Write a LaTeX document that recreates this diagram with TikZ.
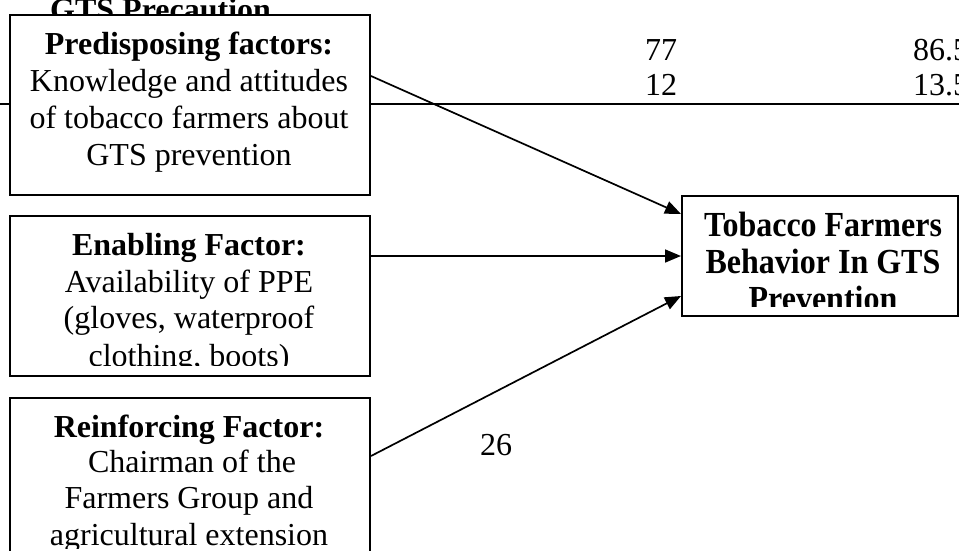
\documentclass[tikz,border=0pt]{standalone}
\usepackage{fontspec}
\setmainfont{Liberation Serif}
\usetikzlibrary{arrows.meta}
\tikzset{
  box/.style={draw, line width=2pt, fill=white, inner sep=0pt, anchor=north west},
  ln/.style={anchor=base, inner sep=0pt, font=\fontsize{32}{37}\selectfont},
  bl/.style={anchor=base, inner sep=0pt, font=\fontsize{32}{37}\selectfont\bfseries},
  arr/.style={line width=1.7pt, -{Triangle[length=16pt,width=13pt]}},
}
\newcommand{\tallbf}[1]{\scalebox{1}[1.1]{#1}}
\begin{document}
\begin{tikzpicture}[x=1pt,y=-1pt]
\useasboundingbox (0,0) rectangle (959,550);
\clip (0,0) rectangle (959,550);
% table remnants
\coordinate (hl0) at (0,104);
\coordinate (hl1) at (959,104);
\draw[line width=2.4pt] (hl0) -- (hl1);
\node[bl, anchor=base west] (gts) at (50,20) {GTS Precaution};
\node[ln, anchor=base west] (n77) at (645,60) {77};
\node[ln, anchor=base west] (n12) at (645,95) {12};
\node[ln, anchor=base west] (n865) at (913,60) {86.5};
\node[ln, anchor=base west] (n135) at (913,95) {13.5};
\node[ln, anchor=base west] (n26) at (480,455) {26};
% boxes
\node[box, minimum width=360pt, minimum height=180pt] (pre) at (9,14) {};
\node[box, minimum width=360pt, minimum height=160pt] (ena) at (9,215) {};
\node[box, minimum width=360pt, minimum height=200pt] (rei) at (9,397) {};
\node[box, minimum width=276pt, minimum height=120pt] (beh) at (681,195) {};
% box texts
\node[bl] (p1) at (189,54) {Predisposing factors:};
\node[ln] (p2) at (189,91) {Knowledge and attitudes};
\node[ln] (p3) at (189,128) {of tobacco farmers about};
\node[ln] (p4) at (189,165) {GTS prevention};
\begin{scope}
\clip (9,215) rectangle (369,365);
\node[bl] (e1) at (189,255) {Enabling Factor:};
\node[ln] (e2) at (189,292) {Availability of PPE};
\node[ln] (e3) at (189,328) {(gloves, waterproof};
\node[ln] (e4) at (189,366) {clothing, boots)};
\end{scope}
\begin{scope}
\clip (9,397) rectangle (369,548);
\node[bl] (r1) at (189,437) {Reinforcing Factor:};
\node[ln] (r2) at (192,472) {Chairman of the};
\node[ln] (r3) at (189,508) {Farmers Group and};
\node[ln] (r4) at (189,545) {agricultural extension};
\end{scope}
\begin{scope}
\clip (681,195) rectangle (956,306);
\node[bl] (b1) at (823,236) {\tallbf{Tobacco Farmers}};
\node[bl] (b2) at (823,273) {\tallbf{Behavior In GTS}};
\node[bl] (b3) at (823,310) {\tallbf{Prevention}};
\end{scope}
% arrows
\draw[arr] ([yshift=29pt]pre.east) -- ([yshift=42pt]beh.west);
\draw[arr] ([yshift=40pt]ena.east) -- (beh.west);
\draw[arr] ([yshift=42pt]rei.east) -- ([yshift=-40pt]beh.west);
\end{tikzpicture}
\end{document}
